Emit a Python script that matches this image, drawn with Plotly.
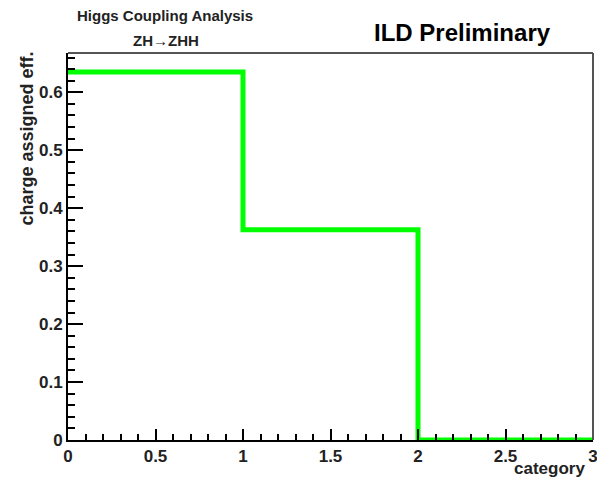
import plotly.graph_objects as go

# Data
bin_edges = [0, 1, 2, 3]
charge_eff = [0.635, 0.363, 0.0]
x_ticks = [0, 0.5, 1, 1.5, 2, 2.5, 3]
x_tick_labels = ["0", "0.5", "1", "1.5", "2", "2.5", "3"]
y_ticks = [0, 0.1, 0.2, 0.3, 0.4, 0.5, 0.6]
y_tick_labels = ["0", "0.1", "0.2", "0.3", "0.4", "0.5", "0.6"]

step_y = charge_eff + [charge_eff[-1]]

FONT = "Liberation Sans, Arial, Helvetica, sans-serif"

fig = go.Figure()
fig.add_trace(go.Scatter(
    x=bin_edges, y=step_y, mode="lines", line_shape="hv",
    line=dict(color="#00ff00", width=5), cliponaxis=False,
    showlegend=False, hoverinfo="skip"))

L, R, T, B = 68, 4, 53, 39
W, H = 597, 479

fig.update_layout(
    width=W, height=H,
    margin=dict(l=L, r=R, t=T, b=B, pad=0, autoexpand=False),
    paper_bgcolor="white", plot_bgcolor="white",
    font=dict(family=FONT, color="black"),
    showlegend=False,
)

fig.update_xaxes(
    range=[0, 3], tickvals=x_ticks, ticktext=x_tick_labels,
    showgrid=False, zeroline=False, automargin=False,
    showline=True, linecolor="black", linewidth=2,
    ticks="inside", ticklen=11, tickwidth=2, tickcolor="black",
    minor=dict(ticks="inside", ticklen=6, tickwidth=2, tickcolor="black", dtick=0.1),
    tickfont=dict(family=FONT, size=17, color="#222", weight="bold"),
    ticklabeloverflow="allow",
    layer="above traces",
)
fig.update_yaxes(
    range=[0, 0.6678], tickvals=y_ticks, ticktext=y_tick_labels,
    showgrid=False, zeroline=False, automargin=False,
    showline=True, linecolor="black", linewidth=2,
    ticks="inside", ticklen=15, tickwidth=2, tickcolor="black",
    minor=dict(ticks="inside", ticklen=7, tickwidth=2, tickcolor="black", dtick=0.02),
    tickfont=dict(family=FONT, size=17, color="#222", weight="bold"),
    ticklabeloverflow="allow",
    layer="above traces",
)

# frame top and right
fig.add_shape(type="line", xref="paper", yref="paper", x0=0, x1=1, y0=1, y1=1,
              line=dict(color="#555", width=2))
fig.add_shape(type="line", xref="paper", yref="paper", x0=1, x1=1, y0=0, y1=1,
              line=dict(color="#555", width=2))

pw = W - L - R
ph = H - T - B

def px(x):
    return (x - L) / pw

def py(y):
    return (H - B - y) / ph

fig.add_annotation(text="Higgs Coupling Analysis", x=px(165), y=py(16),
                   xref="paper", yref="paper", showarrow=False,
                   xanchor="center", yanchor="middle",
                   font=dict(family=FONT, size=15, color="#222", weight="bold"))
fig.add_annotation(text="ZH→ZHH", x=px(166), y=py(41),
                   xref="paper", yref="paper", showarrow=False,
                   xanchor="center", yanchor="middle",
                   font=dict(family=FONT, size=15, color="#222", weight="bold"))
fig.add_annotation(text="ILD Preliminary", x=px(462), y=py(33),
                   xref="paper", yref="paper", showarrow=False,
                   xanchor="center", yanchor="middle",
                   font=dict(family=FONT, size=24, color="black", weight="bold"))
fig.add_annotation(text="category", x=px(586), y=py(479),
                   xref="paper", yref="paper", showarrow=False,
                   xanchor="right", yanchor="bottom", borderpad=0,
                   font=dict(family=FONT, size=17, color="#222", weight="bold"))
fig.add_annotation(text="charge assigned eff.", x=px(26), y=py(138.5),
                   xref="paper", yref="paper", showarrow=False, textangle=-90,
                   xanchor="center", yanchor="middle",
                   font=dict(family=FONT, size=18, color="#222", weight="bold"))

fig.write_html("out.html")
